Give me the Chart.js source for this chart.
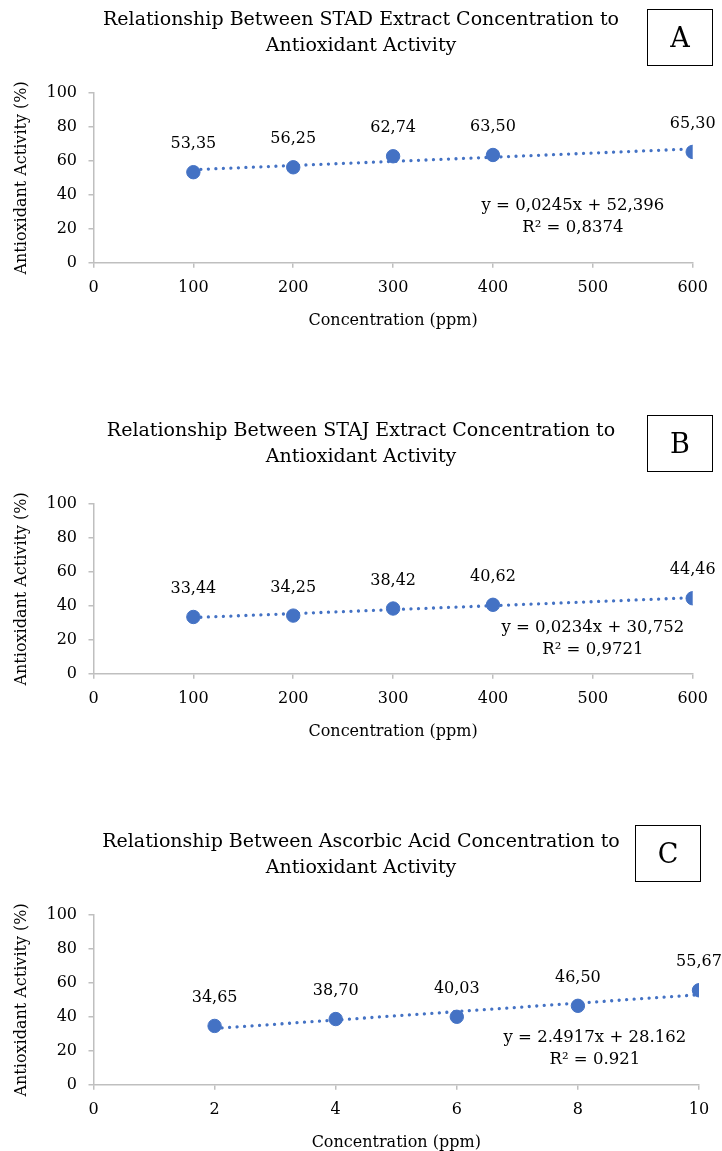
<!DOCTYPE html>
<html>
<head>
<meta charset="utf-8">
<script src="https://cdn.jsdelivr.net/npm/chart.js@4.4.1/dist/chart.umd.min.js"></script>
<style>
    html, body { margin: 0; padding: 0; background: #fff; overflow: hidden; }
    .panel { position: absolute; left: 0; width: 722px; height: 335px; }
    .panel canvas { display: block; }
    .tag {
        position: absolute; width: 64px; height: 55px; border: 1.5px solid #000;
        font-family: 'DejaVu Serif', serif; font-size: 27px; color: #000;
        display: flex; align-items: center; justify-content: center;
    }
</style>
</head>
<body>
<div class="panel" id="pA" style="top:0"><canvas id="cA" width="722" height="335"></canvas></div>
<div class="panel" id="pB" style="top:411px"><canvas id="cB" width="722" height="335"></canvas></div>
<div class="panel" id="pC" style="top:822px"><canvas id="cC" width="722" height="335"></canvas></div>
<div class="tag" style="left:647px;top:9px">A</div>
<div class="tag" style="left:647px;top:415px">B</div>
<div class="tag" style="left:635px;top:825px">C</div>
<script>
// ─── data ───────────────────────────────────────────────────────────────
const concStad = [100, 200, 300, 400, 600];
const activityStad = [53.35, 56.25, 62.74, 63.50, 65.30];
const trendStad = {slope: 0.0245, intercept: 52.396};

const concStaj = [100, 200, 300, 400, 600];
const activityStaj = [33.44, 34.25, 38.42, 40.62, 44.46];
const trendStaj = {slope: 0.0234, intercept: 30.752};

const concAsc = [2, 4, 6, 8, 10];
const activityAsc = [34.65, 38.70, 40.03, 46.50, 55.67];
const trendAsc = {slope: 2.4917, intercept: 28.162};

const yTicks = [0, 20, 40, 60, 80, 100];

const BLUE = '#4472C4';
const AXIS = '#BFBFBF';
const SERIF = "'DejaVu Serif', serif";

// value labels above each point
const pointLabels = {
    id: 'pointLabels',
    afterDatasetsDraw(chart) {
        const meta = chart.getDatasetMeta(0);
        const ctx = chart.ctx;
        ctx.save();
        ctx.font = `16px ${SERIF}`;
        ctx.fillStyle = '#000';
        ctx.textAlign = 'center';
        ctx.textBaseline = 'middle';
        meta.data.forEach((pt, i) => {
            const v = chart.data.datasets[0].data[i].y;
            ctx.fillText(v.toFixed(2).replace('.', ','), pt.x, pt.y - 28);
        });
        ctx.restore();
    }
};

// regression equation text
const equation = {
    id: 'equation',
    afterDatasetsDraw(chart, args, opts) {
        const {x, y} = chart.scales;
        const ctx = chart.ctx;
        ctx.save();
        ctx.font = `16.5px ${SERIF}`;
        ctx.fillStyle = '#000';
        ctx.textAlign = 'center';
        ctx.textBaseline = 'middle';
        const px = x.getPixelForValue(opts.at[0]);
        const py = y.getPixelForValue(opts.at[1]);
        opts.lines.forEach((t, i) => ctx.fillText(t, px, py + i * 22));
        ctx.restore();
    }
};

function makeChart(id, title, xs, ys, trend, xMax, xStep, eqLines, eqAt, rightGap) {
    const pts = xs.map((x, i) => ({x, y: ys[i]}));
    const x0 = xs[0], x1 = xs[xs.length - 1];
    const line = [x0, x1].map(x => ({x, y: trend.slope * x + trend.intercept}));
    const gridOpts = {drawOnChartArea: false, drawTicks: true, tickLength: 5, color: AXIS, lineWidth: 1.5};

    return new Chart(document.getElementById(id), {
        type: 'scatter',
        data: {
            datasets: [
                {
                    data: pts,
                    backgroundColor: BLUE,
                    borderColor: BLUE,
                    pointRadius: 6.7,
                    pointHoverRadius: 6.7,
                },
                {
                    type: 'line',
                    data: line,
                    borderColor: BLUE,
                    borderWidth: 3.3,
                    borderDash: [0.01, 7.5],
                    borderCapStyle: 'round',
                    pointRadius: 0,
                    fill: false,
                },
            ],
        },
        options: {
            responsive: false,
            animation: false,
            events: [],
            layout: {padding: 0},
            plugins: {
                legend: {display: false},
                tooltip: {enabled: false},
                title: {
                    display: true,
                    text: title,
                    color: '#000',
                    font: {family: SERIF, size: 19, weight: 'normal', lineHeight: 1.37},
                    padding: {top: 7, bottom: 34},
                },
                equation: {lines: eqLines, at: eqAt},
            },
            scales: {
                x: {
                    type: 'linear',
                    min: 0,
                    max: xMax,
                    afterFit: s => { s.height = 72.3; },
                    afterBuildTicks: s => { s.ticks = []; for (let v = 0; v <= xMax; v += xStep) s.ticks.push({value: v}); },
                    grid: gridOpts,
                    border: {color: AXIS, width: 1.5},
                    ticks: {color: '#000', padding: 11, font: {family: SERIF, size: 16}},
                    title: {
                        display: true, text: 'Concentration (ppm)', color: '#000',
                        font: {family: SERIF, size: 16}, padding: {top: 0, bottom: 5},
                    },
                },
                y: {
                    min: 0,
                    max: 100,
                    afterFit: s => { s.width = 93.5; },
                    afterBuildTicks: s => { s.ticks = yTicks.map(v => ({value: v})); },
                    grid: gridOpts,
                    border: {color: AXIS, width: 1.5},
                    ticks: {color: '#000', padding: 11.5, font: {family: SERIF, size: 16}},
                    title: {
                        display: true, text: 'Antioxidant Activity (%)', color: '#000',
                        font: {family: SERIF, size: 16}, padding: {top: 12, bottom: 0},
                    },
                },
                // empty right margin so the title stays centred on the page
                gap: {
                    position: 'right',
                    min: 0,
                    max: 100,
                    afterFit: s => { s.width = rightGap; },
                    grid: {display: false},
                    border: {display: false},
                    ticks: {display: false},
                },
            },
        },
        plugins: [pointLabels, equation],
    });
}

makeChart('cA', ['Relationship Between STAD Extract Concentration to', 'Antioxidant Activity'],
    concStad, activityStad, trendStad, 600, 100,
    ['y = 0,0245x + 52,396', 'R² = 0,8374'], [480, 33.3], 29.3);

makeChart('cB', ['Relationship Between STAJ Extract Concentration to', 'Antioxidant Activity'],
    concStaj, activityStaj, trendStaj, 600, 100,
    ['y = 0,0234x + 30,752', 'R² = 0,9721'], [500, 27.3], 29.3);

makeChart('cC', ['Relationship Between Ascorbic Acid Concentration to', 'Antioxidant Activity'],
    concAsc, activityAsc, trendAsc, 10, 2,
    ['y = 2.4917x + 28.162', 'R² = 0.921'], [8.28, 27.7], 23);
</script>
</body>
</html>
